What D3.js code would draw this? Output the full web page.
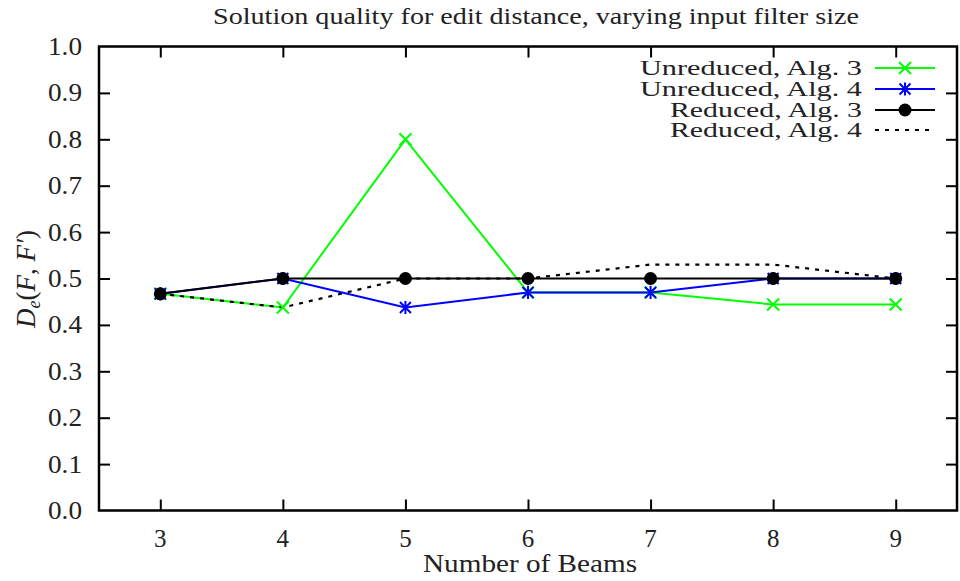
<!DOCTYPE html>
<html>
<head>
<meta charset="utf-8">
<script src="https://cdn.jsdelivr.net/npm/d3@7"></script>
<style>
  body { margin: 0; background: #fff; }
  svg { display: block; }
  text { font-family: "Liberation Serif", "DejaVu Serif", serif; fill: #222; }
</style>
</head>
<body>
<script>
// number of beams
const beams = [3, 4, 5, 6, 7, 8, 9];
const yTicks = [0, 0.1, 0.2, 0.3, 0.4, 0.5, 0.6, 0.7, 0.8, 0.9, 1.0];

// solution quality per series
const unreducedAlg3 = [0.467, 0.4375, 0.8, 0.47, 0.47, 0.444, 0.444];
const unreducedAlg4 = [0.467, 0.5, 0.4375, 0.47, 0.47, 0.5, 0.5];
const reducedAlg3 = [0.467, 0.5, 0.5, 0.5, 0.5, 0.5, 0.5];
const reducedAlg4 = [0.467, 0.4375, 0.5, 0.5, 0.53, 0.53, 0.5];

const seriesNames = ["Unreduced, Alg. 3", "Unreduced, Alg. 4", "Reduced, Alg. 3", "Reduced, Alg. 4"];

const width = 960, height = 581;
const margin = {top: 46.5, right: 3, bottom: 70.5, left: 99};

let svg = d3.select("body").append("svg")
    .attr("width", width)
    .attr("height", height)
    .attr("viewBox", "0 0 " + width + " " + height);

let x = d3.scaleLinear().domain([2.5, 9.5]).range([margin.left, width - margin.right]);
let y = d3.scaleLinear().domain([0, 1]).range([height - margin.bottom, margin.top]);

const tickLen = 11;

// text that is stretched a bit so it is as wide as the TeX font
function wideText(sel, w) {
    sel.attr("textLength", w).attr("lengthAdjust", "spacingAndGlyphs");
}

// ticks (inward, mirrored)
let axisG = svg.append("g");
axisG.append("g")
    .attr("transform", "translate(0," + y(0) + ")")
    .call(d3.axisBottom(x).tickValues(beams).tickSizeInner(-tickLen).tickSizeOuter(0).tickFormat(""));
axisG.append("g")
    .attr("transform", "translate(0," + y(1) + ")")
    .call(d3.axisTop(x).tickValues(beams).tickSizeInner(-tickLen).tickSizeOuter(0).tickFormat(""));
axisG.append("g")
    .attr("transform", "translate(" + x(2.5) + ",0)")
    .call(d3.axisLeft(y).tickValues(yTicks.slice(1, -1)).tickSizeInner(-tickLen).tickSizeOuter(0).tickFormat(""));
axisG.append("g")
    .attr("transform", "translate(" + x(9.5) + ",0)")
    .call(d3.axisRight(y).tickValues(yTicks.slice(1, -1)).tickSizeInner(-tickLen).tickSizeOuter(0).tickFormat(""));
axisG.selectAll(".domain").remove();
axisG.selectAll(".tick line").attr("stroke", "#000").attr("stroke-width", 2);

// tick labels
svg.append("g").selectAll("text")
    .data(beams)
    .join("text")
    .attr("x", d => x(d))
    .attr("y", y(0) + 36)
    .attr("text-anchor", "middle")
    .attr("font-size", 25)
    .text(d => d);

svg.append("g").selectAll("text")
    .data(yTicks)
    .join("text")
    .attr("x", margin.left - 17)
    .attr("y", d => y(d) + 8.5)
    .attr("text-anchor", "end")
    .attr("font-size", 25)
    .text(d => d.toFixed(1))
    .call(wideText, 34);

// lines
let line = d3.line().x((d, i) => x(beams[i])).y(d => y(d));

let plot = svg.append("g");
plot.append("path").datum(unreducedAlg3)
    .attr("d", line).attr("fill", "none").attr("stroke", "#00ff00").attr("stroke-width", 2);
plot.append("path").datum(unreducedAlg4)
    .attr("d", line).attr("fill", "none").attr("stroke", "#0000ff").attr("stroke-width", 2);
plot.append("path").datum(reducedAlg3)
    .attr("d", line).attr("fill", "none").attr("stroke", "#000").attr("stroke-width", 2);
plot.append("path").datum(reducedAlg4)
    .attr("d", line).attr("fill", "none").attr("stroke", "#000").attr("stroke-width", 2.2)
    .attr("stroke-dasharray", "4,6");

// markers
function crossMark(g, cx, cy, r, color) {
    g.append("path")
        .attr("d", `M${cx - r},${cy - r}L${cx + r},${cy + r}M${cx - r},${cy + r}L${cx + r},${cy - r}`)
        .attr("stroke", color).attr("stroke-width", 2).attr("fill", "none");
}
function starMark(g, cx, cy, r, color) {
    g.append("path")
        .attr("d", `M${cx - r},${cy - r}L${cx + r},${cy + r}M${cx - r},${cy + r}L${cx + r},${cy - r}M${cx},${cy - r * 1.2}L${cx},${cy + r * 1.2}`)
        .attr("stroke", color).attr("stroke-width", 2).attr("fill", "none");
}

let marks = svg.append("g");
unreducedAlg3.forEach((v, i) => crossMark(marks, x(beams[i]), y(v), 6, "#00ff00"));
unreducedAlg4.forEach((v, i) => starMark(marks, x(beams[i]), y(v), 5.5, "#0000ff"));
marks.selectAll("circle")
    .data(reducedAlg3)
    .join("circle")
    .attr("cx", (d, i) => x(beams[i]))
    .attr("cy", d => y(d))
    .attr("r", 6.5)
    .attr("fill", "#000");

// frame
svg.append("rect")
    .attr("x", x(2.5)).attr("y", y(1))
    .attr("width", x(9.5) - x(2.5)).attr("height", y(0) - y(1))
    .attr("fill", "none").attr("stroke", "#000").attr("stroke-width", 2.5);

// legend
let legend = svg.append("g");
const legendY = [68, 89, 110, 130];
const legendW = [222, 222, 192, 192];
seriesNames.forEach((name, i) => {
    let ly = legendY[i];
    legend.append("text")
        .attr("x", 862).attr("y", ly + 7)
        .attr("text-anchor", "end")
        .attr("font-size", 21)
        .text(name)
        .call(wideText, legendW[i]);
    let ln = legend.append("line")
        .attr("x1", 875).attr("x2", 935).attr("y1", ly).attr("y2", ly)
        .attr("stroke-width", 2);
    if (i === 0) { ln.attr("stroke", "#00ff00"); crossMark(legend, 905, ly, 6, "#00ff00"); }
    if (i === 1) { ln.attr("stroke", "#0000ff"); starMark(legend, 905, ly, 5.5, "#0000ff"); }
    if (i === 2) { ln.attr("stroke", "#000"); legend.append("circle").attr("cx", 905).attr("cy", ly).attr("r", 6.5).attr("fill", "#000"); }
    if (i === 3) { ln.attr("stroke", "#000").attr("stroke-width", 2.2).attr("stroke-dasharray", "4,6"); }
});

// title and axis labels
svg.append("text")
    .attr("x", 536).attr("y", 24)
    .attr("text-anchor", "middle")
    .attr("font-size", 23)
    .text("Solution quality for edit distance, varying input filter size")
    .call(wideText, 646);

svg.append("text")
    .attr("x", 530).attr("y", 572)
    .attr("text-anchor", "middle")
    .attr("font-size", 25)
    .text("Number of Beams")
    .call(wideText, 214);

let yl = svg.append("text")
    .attr("transform", "translate(35,279) rotate(-90)")
    .attr("text-anchor", "middle")
    .attr("font-size", 27)
    .attr("font-style", "italic");
yl.append("tspan").text("D");
yl.append("tspan").attr("font-size", 18).attr("dy", 5).text("e");
yl.append("tspan").attr("dy", -5).attr("font-style", "normal").text("(");
yl.append("tspan").text("F");
yl.append("tspan").attr("font-style", "normal").text(", ");
yl.append("tspan").text("F′");
yl.append("tspan").attr("font-style", "normal").text(")");
</script>
</body>
</html>
